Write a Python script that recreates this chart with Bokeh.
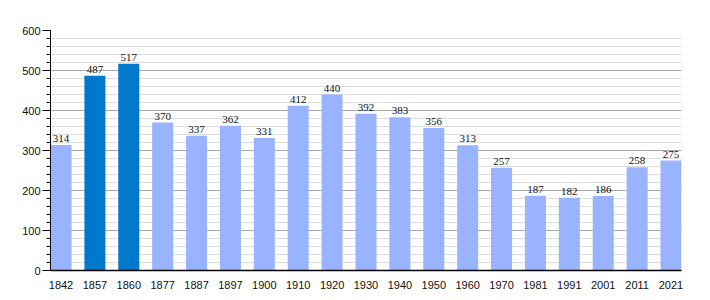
from bokeh.plotting import figure
from bokeh.models import ColumnDataSource, FixedTicker, SingleIntervalTicker, Range1d, LabelSet
from bokeh.embed import file_html
from bokeh.resources import INLINE

years = ["1842", "1857", "1860", "1877", "1887", "1897", "1900", "1910", "1920", "1930",
         "1940", "1950", "1960", "1970", "1981", "1991", "2001", "2011", "2021"]
population = [314, 487, 517, 370, 337, 362, 331, 412, 440, 392,
              383, 356, 313, 257, 187, 182, 186, 258, 275]
highlight = ["1857", "1860"]

LIGHT = "#99b3ff"
DARK = "#0079cc"

xs = list(range(len(years)))
colors = [DARK if y in highlight else LIGHT for y in years]
src = ColumnDataSource(dict(x=xs, top=population, color=colors,
                            label=[str(v) for v in population]))

p = figure(width=710, height=300, output_backend="svg", toolbar_location=None,
           x_range=Range1d(-0.31, len(years) - 1 + 0.31), y_range=Range1d(0, 600),
           min_border_left=50, min_border_right=29, min_border_top=30, min_border_bottom=30)
p.outline_line_color = None
p.background_fill_color = "white"
p.border_fill_color = "white"

p.vbar(x="x", top="top", width=0.62, color="color", source=src, line_color=None)

labels = LabelSet(x="x", y="top", text="label", source=src, text_align="center",
                  text_baseline="bottom", y_offset=3, text_font_size="11px",
                  text_font="Liberation Sans", text_color="#111111")
p.add_layout(labels)

p.xgrid.grid_line_color = None
p.ygrid.grid_line_color = "#aaaaaa"
p.ygrid.minor_grid_line_color = "#dddddd"
p.ygrid.level = "underlay"

p.yaxis.ticker = SingleIntervalTicker(interval=100, num_minor_ticks=5)
p.yaxis.major_tick_in = 0
p.yaxis.major_tick_out = 8
p.yaxis.minor_tick_in = 0
p.yaxis.minor_tick_out = 4
p.yaxis.axis_line_color = "black"
p.yaxis.major_tick_line_color = "black"
p.yaxis.minor_tick_line_color = "black"
p.yaxis.major_label_text_font = "Liberation Sans"
p.yaxis.major_label_text_font_size = "11px"
p.yaxis.major_label_text_color = "#111111"
p.yaxis.major_label_standoff = 2

p.xaxis.ticker = FixedTicker(ticks=xs)
p.xaxis.major_label_overrides = {i: y for i, y in enumerate(years)}
p.xaxis.major_tick_line_color = None
p.xaxis.minor_tick_line_color = None
p.xaxis.axis_line_color = "black"
p.xaxis.axis_line_width = 1.5
p.xaxis.major_label_text_font = "Liberation Sans"
p.xaxis.major_label_text_font_size = "11px"
p.xaxis.major_label_text_color = "#111111"
p.xaxis.major_label_standoff = 4

open("out.html", "w").write(file_html(p, INLINE))
